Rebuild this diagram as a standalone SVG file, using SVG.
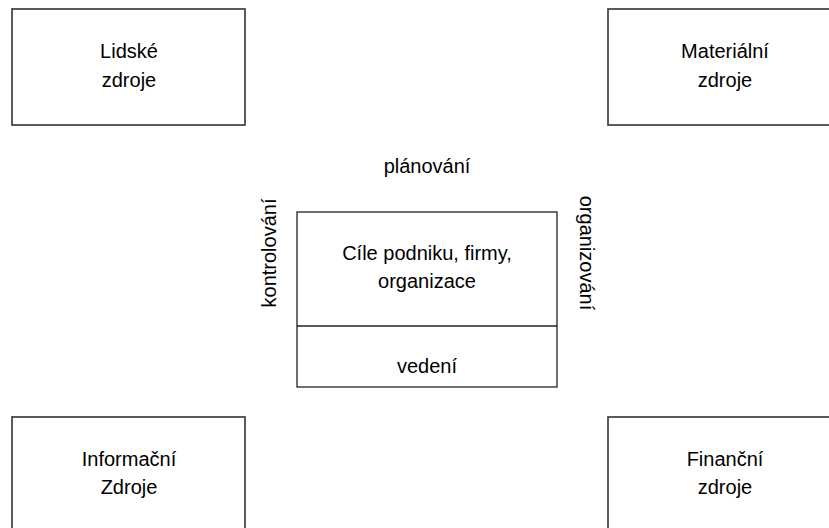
<svg xmlns="http://www.w3.org/2000/svg" width="829" height="528" viewBox="0 0 829 528">
<style>
.box{fill:#fff;stroke:#333;stroke-width:1.6}
.cbox{fill:none;stroke:#222;stroke-width:1.3}
text{font-family:"Liberation Sans",Arial,sans-serif;font-size:20px;fill:#000;text-anchor:middle}
</style>
<rect width="829" height="528" fill="#fff"/>
<g id="lidske">
<rect class="box" x="12" y="9" width="233" height="116"/>
<text x="129" y="58">Lidské</text>
<text x="129" y="87">zdroje</text>
</g>
<g id="materialni">
<rect class="box" x="608" y="9" width="240" height="116"/>
<text x="725" y="58">Materiální</text>
<text x="725" y="87">zdroje</text>
</g>
<g id="informacni">
<rect class="box" x="12" y="417" width="233" height="130"/>
<text x="129" y="466">Informační</text>
<text x="129" y="494">Zdroje</text>
</g>
<g id="financni">
<rect class="box" x="608" y="417" width="240" height="130"/>
<text x="725" y="466">Finanční</text>
<text x="725" y="494">zdroje</text>
</g>
<g id="cile">
<rect class="cbox" x="297" y="212" width="260" height="175"/>
<line class="cbox" x1="297" y1="326" x2="557" y2="326"/>
<text x="427" y="260">Cíle podniku, firmy,</text>
<text x="427" y="288">organizace</text>
<text x="427" y="373">vedení</text>
</g>
<g id="labels">
<text x="427" y="173">plánování</text>
<text transform="translate(276 253) rotate(-90)">kontrolování</text>
<text transform="translate(580 253) rotate(90)">organizování</text>
</g>
<g id="connectors"></g>
</svg>
